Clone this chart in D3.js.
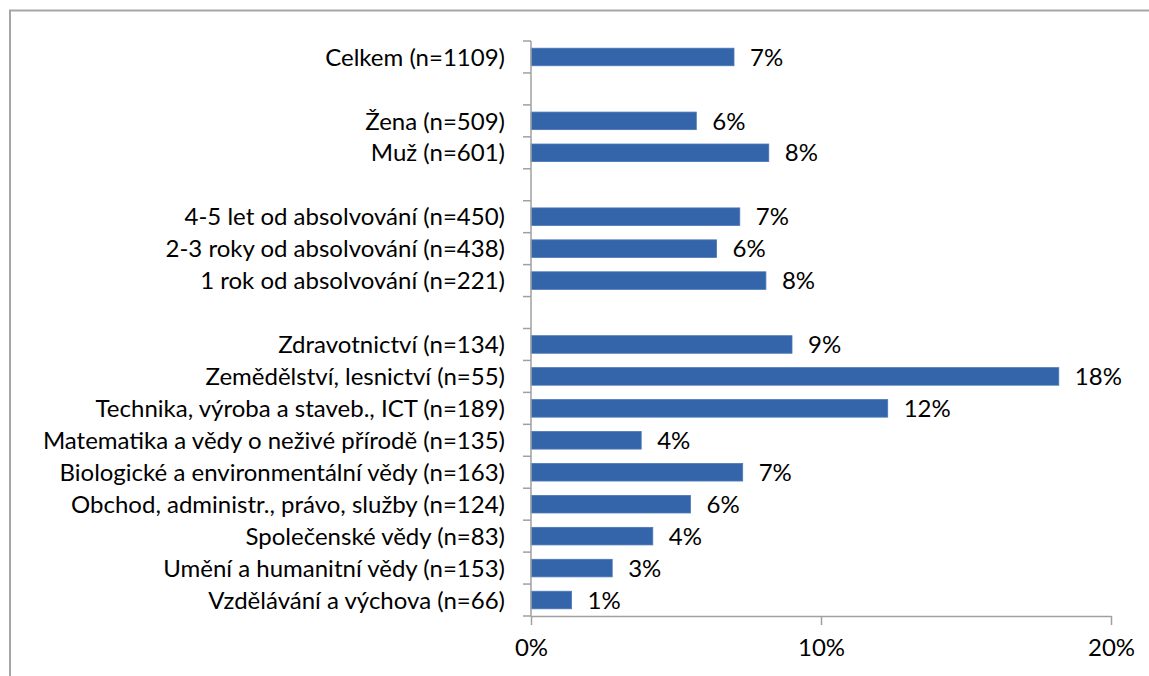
<!DOCTYPE html>
<html>
<head>
<meta charset="utf-8">
<script src="https://cdn.jsdelivr.net/npm/d3@7"></script>
<style>
  body { margin: 0; background: #fff; }
  svg text { font-family: Lato, 'Open Sans', sans-serif; fill: #000; }
</style>
</head>
<body>
<div id="container"></div>
<script>
// rows from top to bottom, blank strings are the gaps between groups
const categories = [
  'Celkem (n=1109)',
  '',
  'Žena (n=509)',
  'Muž (n=601)',
  ' ',
  '4-5 let od absolvování (n=450)',
  '2-3 roky od absolvování (n=438)',
  '1 rok od absolvování (n=221)',
  '  ',
  'Zdravotnictví (n=134)',
  'Zemědělství, lesnictví (n=55)',
  'Technika, výroba a staveb., ICT (n=189)',
  'Matematika a vědy o neživé přírodě (n=135)',
  'Biologické a environmentální vědy (n=163)',
  'Obchod, administr., právo, služby (n=124)',
  'Společenské vědy (n=83)',
  'Umění a humanitní vědy (n=153)',
  'Vzdělávání a výchova (n=66)'
];
const values = [7.0, null, 5.7, 8.2, null, 7.2, 6.4, 8.1, null, 9.0, 18.2, 12.3, 3.8, 7.3, 5.5, 4.2, 2.8, 1.4];
const valueLabels = ['7%', '', '6%', '8%', '', '7%', '6%', '8%', '', '9%', '18%', '12%', '4%', '7%', '6%', '4%', '3%', '1%'];
const xTicks = [0, 10, 20];

const width = 1149, height = 676;
const margin = { top: 41, left: 531 };
const fontSize = '24px';

const svg = d3.select('#container').append('svg')
  .attr('width', width)
  .attr('height', height);

// frame (only top and left edges are visible)
svg.append('path')
  .attr('d', `M10,${height} L10,10.5 L${width},10.5`)
  .attr('fill', 'none')
  .attr('stroke', '#a6a6a6')
  .attr('stroke-width', 2);

const x = d3.scaleLinear().domain([0, 20]).range([margin.left, 1111]);
const y = d3.scaleBand().domain(categories).range([margin.top, 616]).paddingInner(0.45).paddingOuter(0.225);
const yStep = y.step();

const bars = values.map((v, i) => ({ cat: categories[i], v, label: valueLabels[i] })).filter(d => d.v !== null);

svg.append('g')
  .selectAll('rect')
  .data(bars).enter()
  .append('rect')
  .attr('x', x(0))
  .attr('y', d => y(d.cat))
  .attr('width', d => x(d.v) - x(0))
  .attr('height', y.bandwidth())
  .attr('fill', '#3464a9')
  .attr('stroke', '#4a78b8')
  .attr('stroke-width', 0.8);

svg.append('g')
  .selectAll('text')
  .data(bars).enter()
  .append('text')
  .attr('x', d => x(d.v) + 16)
  .attr('y', d => y(d.cat) + y.bandwidth() / 2)
  .attr('dy', '0.36em')
  .style('font-size', fontSize)
  .text(d => d.label);

// category axis: line + ticks at row boundaries
const axisColor = '#a0a0a0';
const yAxis = svg.append('g');
yAxis.append('line')
  .attr('x1', x(0)).attr('x2', x(0))
  .attr('y1', margin.top).attr('y2', 616)
  .attr('stroke', axisColor).attr('stroke-width', 1.5);
yAxis.selectAll('line.tick')
  .data(d3.range(categories.length + 1)).enter()
  .append('line')
  .attr('class', 'tick')
  .attr('x1', x(0) - 8).attr('x2', x(0))
  .attr('y1', i => margin.top + i * yStep)
  .attr('y2', i => margin.top + i * yStep)
  .attr('stroke', axisColor).attr('stroke-width', 1.5);
yAxis.selectAll('text')
  .data(categories.filter(c => c.trim() !== '')).enter()
  .append('text')
  .attr('x', 505)
  .attr('y', d => y(d) + y.bandwidth() / 2)
  .attr('dy', '0.36em')
  .attr('text-anchor', 'end')
  .style('font-size', fontSize)
  .text(d => d);

// value axis
const xAxis = svg.append('g').attr('transform', 'translate(0,616)')
  .call(d3.axisBottom(x).tickValues(xTicks).tickSize(9).tickSizeOuter(0).tickPadding(14).tickFormat(d => d + '%'));
xAxis.select('.domain').attr('stroke', axisColor).attr('stroke-width', 1.5);
xAxis.selectAll('.tick line').attr('stroke', axisColor).attr('stroke-width', 1.5);
xAxis.selectAll('.tick text').style('font-size', fontSize).attr('fill', '#000');
</script>
</body>
</html>
